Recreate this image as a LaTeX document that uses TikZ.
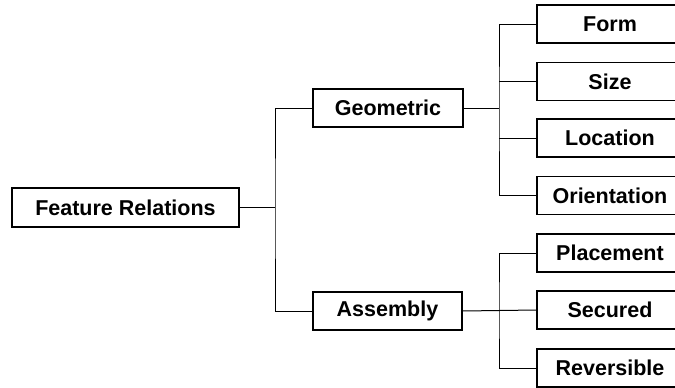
\documentclass[tikz,border=0pt]{standalone}
\usepackage{fontspec}
\setmainfont{Liberation Sans}
\begin{document}
\begin{tikzpicture}[x=1pt,y=-1pt,
  box/.style={draw=black,line width=1.1pt,minimum height=38pt,inner sep=0pt,font=\fontsize{21.5}{25}\selectfont\bfseries},
  leaf/.style={box,minimum width=146pt},
  link/.style={draw=black,line width=1pt}]
\useasboundingbox (0,0) rectangle (675,388);
\clip (0,0) rectangle (675,388);
\fill[white] (0,0) rectangle (675,388);
\node[box,minimum width=227pt,minimum height=39pt] (fr) at (125.5,207.5) {Feature Relations};
\node[box,minimum width=150pt] (geo) at (388,108) {Geometric};
\node[box,minimum width=149pt] (asm) at (387.5,311) {Assembly};
\node[leaf] (form) at (610,24) {Form};
\node[leaf] (size) at (610,81.5) {Size};
\node[leaf] (loc) at (610,138) {Location};
\node[leaf] (ori) at (610,195.5) {Orientation};
\node[leaf] (pla) at (610,253) {Placement};
\node[leaf] (sec) at (610,310) {Secured};
\node[leaf] (rev) at (610,368) {Reversible};
\coordinate (j1) at (275,207.5);
\coordinate (j2) at (499,108);
\coordinate (j3) at (499,310);
\draw[link] (fr.east) -- (j1);
\draw[link] (geo.west) -| (j1) |- (asm.west);
\draw[link] (geo.east) -- (j2);
\draw[link] (form.west) -| (j2) |- (ori.west);
\draw[link] (size.west) -- (size.west -| j2);
\draw[link] (loc.west) -- (loc.west -| j2);
\draw[link] (asm.east) -- (sec.west);
\draw[link] (pla.west) -| (j3) |- (rev.west);
\end{tikzpicture}
\end{document}
